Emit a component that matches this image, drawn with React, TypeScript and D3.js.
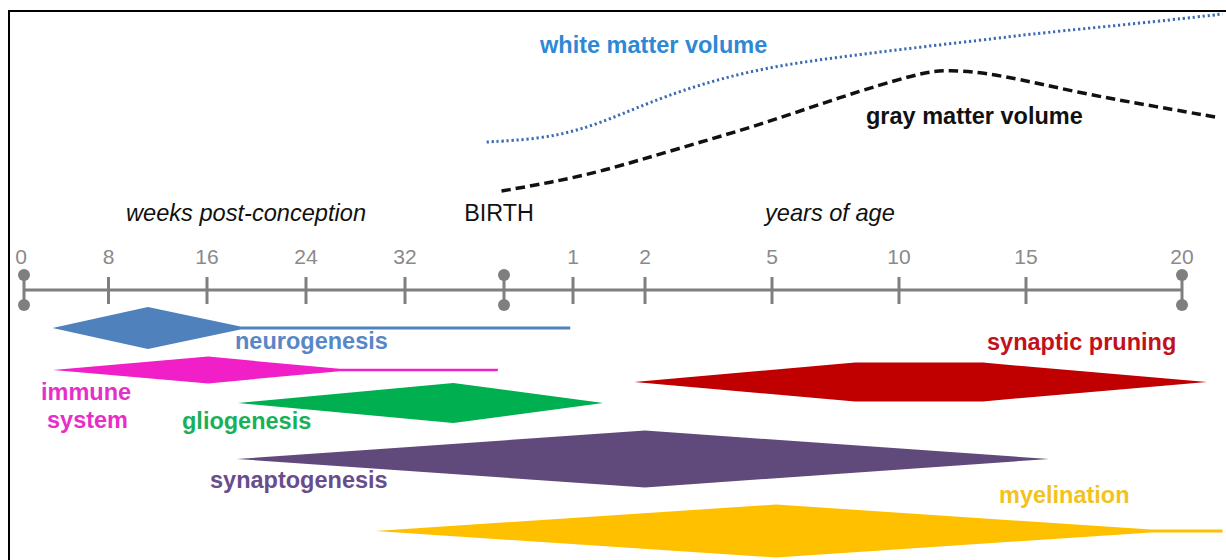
import React from 'react';
import * as d3 from 'd3';

// postnatal years -> weeks post-conception (birth = 40 weeks)
const yr = (y: number) => 40 + 52 * y;

// timeline ticks (weeks post-conception)
const tickAges = [0, 8, 16, 24, 32, 40, yr(1), yr(2), yr(5), yr(10), yr(15), yr(20)];
const tickLabels = ['0', '8', '16', '24', '32', '', '1', '2', '5', '10', '15', '20'];
const endpointAges = [0, 40, yr(20)];

// developmental processes: [age (pcw), relative intensity]
const neurogenesis: [number, number][] = [[2.7, 0], [11.2, 0.74], [18.7, 0.05], [yr(0.96), 0.05]];
const immuneSystem: [number, number][] = [[2.75, 0], [16.1, 0.47], [26.7, 0.04], [39.5, 0.04]];
const gliogenesis: [number, number][] = [[18.5, 0], [35.9, 0.7], [yr(1.42), 0]];
const synaptogenesis: [number, number][] = [[18.4, 0], [yr(2.0), 1.0], [yr(15.74), 0]];
const synapticPruning: [number, number][] = [[yr(1.85), 0], [yr(8.27), 0.68], [yr(13.3), 0.68], [yr(20.8), 0]];
const myelination: [number, number][] = [[29.6, 0], [yr(5.16), 0.93], [yr(19.0), 0.05], [yr(21.3), 0.05]];

// brain volumes: [age (pcw), relative volume]
const whiteMatter: [number, number][] = [
  [38.6, 0.305], [yr(0.52), 0.322], [yr(1.1), 0.368], [yr(1.65), 0.447], [yr(2.83), 0.579],
  [yr(4.72), 0.695], [yr(7.68), 0.753], [yr(10.83), 0.805], [yr(13.98), 0.853], [yr(15.45), 0.879],
  [yr(18.1), 0.921], [yr(20.2), 0.958], [yr(21.3), 0.979],
];
const grayMatter: [number, number][] = [
  [39.8, 0.047], [yr(0.67), 0.092], [yr(1.375), 0.147], [yr(2.83), 0.274], [yr(4.72), 0.395],
  [yr(7.68), 0.542], [yr(10.79), 0.668], [yr(11.89), 0.688], [yr(13.94), 0.662], [yr(16.7), 0.563],
  [yr(19.26), 0.489], [yr(21.06), 0.437],
];

const FONT = 'Liberation Sans, Arial, Helvetica, sans-serif';

export default function App() {
  const W = 1226, H = 560;
  const x = d3.scaleLinear()
    .domain(tickAges)
    .range([24, 108.5, 207, 306, 405, 504, 573, 645, 772, 899, 1026, 1182]);
  const yVol = d3.scaleLinear().domain([0, 1]).range([200, 10]);
  const half = d3.scaleLinear().domain([0, 1]).range([0, 28.5]);
  const axisY = 290;

  const volLine = d3.line<[number, number]>()
    .x(d => x(d[0])).y(d => yVol(d[1])).curve(d3.curveBasis);

  const band = (cy: number) => d3.area<[number, number]>()
    .x(d => x(d[0]))
    .y0(d => cy + Math.max(half(d[1]), 0))
    .y1(d => cy - Math.max(half(d[1]), 0))
    .curve(d3.curveLinear);

  const processes = [
    { data: neurogenesis, cy: 328, fill: '#4f81bd' },
    { data: immuneSystem, cy: 370, fill: '#f01fc8' },
    { data: gliogenesis, cy: 403, fill: '#00b050' },
    { data: synapticPruning, cy: 382, fill: '#c00000' },
    { data: synaptogenesis, cy: 459, fill: '#604a7b' },
    { data: myelination, cy: 531, fill: '#ffc000' },
  ];

  const labels = [
    { t: 'neurogenesis', x: 235, y: 349, c: '#5787c6' },
    { t: 'immune', x: 41, y: 400, c: '#e82ec8' },
    { t: 'system', x: 47, y: 428, c: '#e82ec8' },
    { t: 'gliogenesis', x: 182, y: 429, c: '#18b058' },
    { t: 'synaptogenesis', x: 210, y: 488, c: '#684c8e' },
    { t: 'synaptic pruning', x: 987, y: 350, c: '#c2101c' },
    { t: 'myelination', x: 999, y: 503, c: '#f3c21c' },
    { t: 'white matter volume', x: 540, y: 53, c: '#2e88d4' },
    { t: 'gray matter volume', x: 866, y: 124, c: '#111111' },
  ];

  return (
    <div style={{ position: 'absolute', left: 0, top: 0 }}>
      <svg width={W} height={H} style={{ display: 'block', background: '#fff' }}>
        <rect x={0} y={0} width={W} height={H} fill="#fff" />
        {/* frame */}
        <path d={`M9,${H + 5} L9,11 L${W + 5},11`} fill="none" stroke="#000" strokeWidth={2} />

        {/* volume curves */}
        <path d={volLine(whiteMatter) || ''} fill="none" stroke="#3b6bb3" strokeWidth={3}
          strokeDasharray="2.2,2.8" />
        <path d={volLine(grayMatter) || ''} fill="none" stroke="#111" strokeWidth={3.5}
          strokeDasharray="9.5,5" />

        {/* section titles */}
        <text x={126} y={221} fontFamily={FONT} fontSize={23.6} fontStyle="italic" fill="#111">weeks post-conception</text>
        <text x={x(40) - 5} y={221} fontFamily={FONT} fontSize={23.3} fill="#111" textAnchor="middle">BIRTH</text>
        <text x={765} y={221} fontFamily={FONT} fontSize={23.6} fontStyle="italic" fill="#111">years of age</text>

        {/* axis */}
        <line x1={x(0)} x2={x(yr(20))} y1={axisY} y2={axisY} stroke="#7f7f7f" strokeWidth={3} />
        {tickAges.map((a, i) => {
          const isEnd = endpointAges.includes(a);
          return (
            <g key={i}>
              {isEnd ? (
                <>
                  <line x1={x(a)} x2={x(a)} y1={275} y2={305} stroke="#7f7f7f" strokeWidth={3} />
                  <circle cx={x(a)} cy={275} r={6} fill="#7f7f7f" />
                  <circle cx={x(a)} cy={305} r={6} fill="#7f7f7f" />
                </>
              ) : (
                <line x1={x(a)} x2={x(a)} y1={277} y2={304} stroke="#7f7f7f" strokeWidth={3} />
              )}
              {tickLabels[i] && (
                <text x={x(a) - (i === 0 ? 3 : 0)} y={264} fontFamily={FONT} fontSize={21} fill="#8a8a8a"
                  textAnchor="middle">{tickLabels[i]}</text>
              )}
            </g>
          );
        })}

        {/* processes */}
        {processes.map((p, i) => (
          <path key={i} d={band(p.cy)(p.data) || ''} fill={p.fill} />
        ))}

        {labels.map((l, i) => (
          <text key={i} x={l.x} y={l.y} fontFamily={FONT} fontSize={23.5} fontWeight="bold" fill={l.c}>{l.t}</text>
        ))}
      </svg>
    </div>
  );
}
